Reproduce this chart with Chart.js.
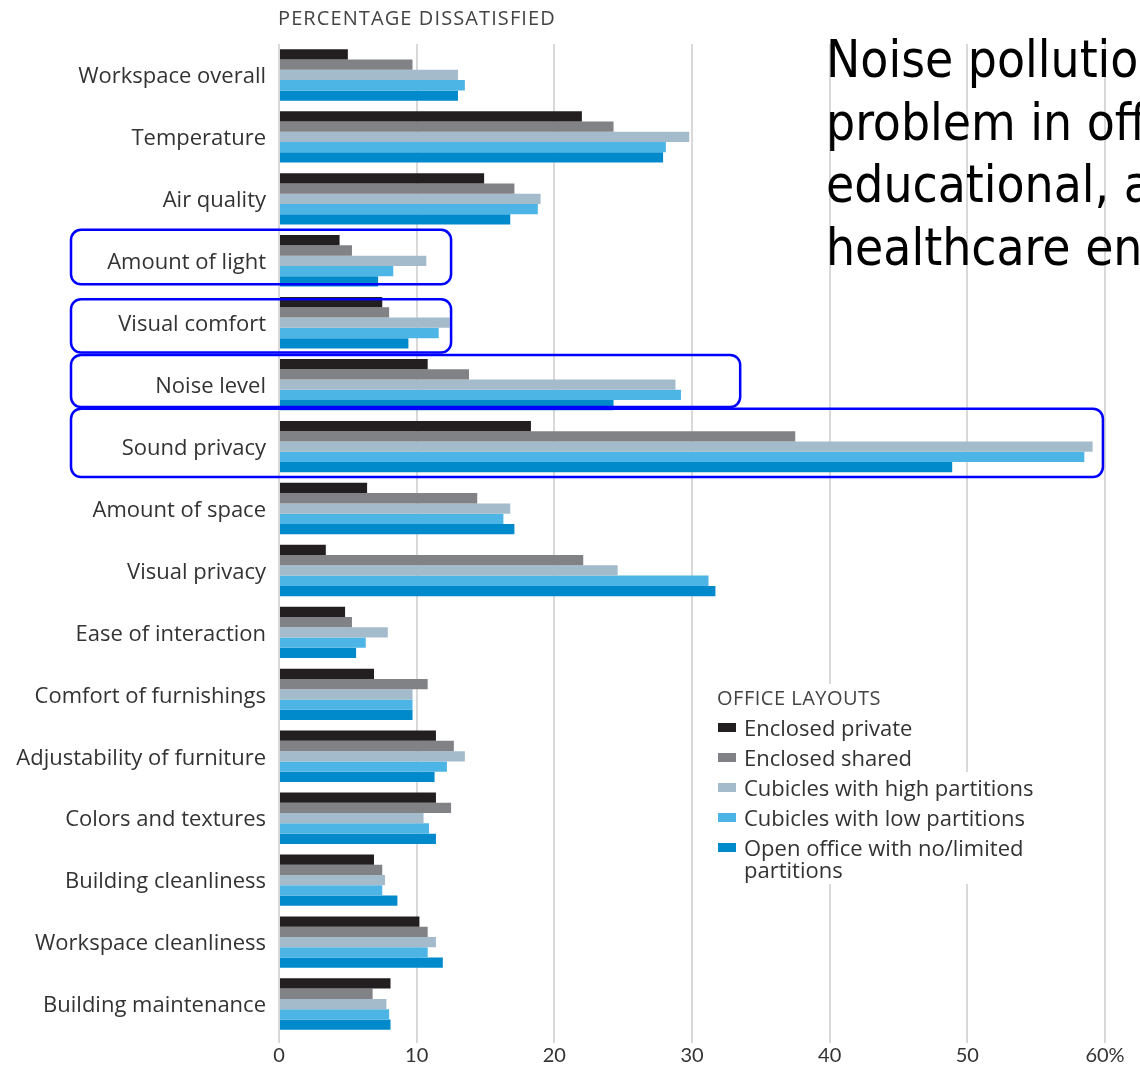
<!DOCTYPE html>
<html>
<head>
<meta charset="utf-8">
<script src="https://cdn.jsdelivr.net/npm/chart.js@4.4.1/dist/chart.umd.min.js"></script>
<style>
  html, body { margin: 0; padding: 0; background: #fff; overflow: hidden; }
  #wrap { position: relative; width: 1140px; height: 1066px; overflow: hidden; }
  canvas { position: absolute; left: 0; top: 0; }
  #title { position: absolute; left: 278px; top: 4px; font-family: "Open Sans", sans-serif; font-size: 20px; line-height: 27px; color: #444; letter-spacing: 1.1px; white-space: nowrap; }
  #note { position: absolute; left: 826px; top: 29px; font-family: "DejaVu Sans Condensed", "DejaVu Sans", sans-serif; font-stretch: condensed; font-size: 51px; line-height: 62.5px; color: #000; white-space: nowrap; }
  #legend { position: absolute; left: 717px; top: 684px; font-family: "Open Sans", sans-serif; color: #333; }
  #legend .head { font-size: 20px; color: #444; line-height: 28px; letter-spacing: 0.5px; background: #fff; width: fit-content; }
  #legend .row { position: relative; font-size: 22px; line-height: 22px; padding: 4px 0 4px 27px; background: #fff; width: fit-content; }
  #legend .row .sw { position: absolute; left: 1px; top: 11px; width: 18px; height: 9px; }
</style>
</head>
<body>
<div id="wrap">
  <canvas id="c" width="1140" height="1066"></canvas>
  <div id="title">PERCENTAGE DISSATISFIED</div>
  <div id="legend"></div>
  <div id="note">Noise pollution is a major<br>problem in offices,<br>educational, and<br>healthcare environments.</div>
</div>
<script>
// ---- data ----
const categories = [
  "Workspace overall", "Temperature", "Air quality", "Amount of light", "Visual comfort",
  "Noise level", "Sound privacy", "Amount of space", "Visual privacy", "Ease of interaction",
  "Comfort of furnishings", "Adjustability of furniture", "Colors and textures",
  "Building cleanliness", "Workspace cleanliness", "Building maintenance"
];
const seriesNames = [
  "Enclosed private", "Enclosed shared", "Cubicles with high partitions",
  "Cubicles with low partitions", "Open office with no/limited partitions"
];
const enclosedPrivate = [5.0, 22.0, 14.9, 4.4, 7.5, 10.8, 18.3, 6.4, 3.4, 4.8, 6.9, 11.4, 11.4, 6.9, 10.2, 8.1];
const enclosedShared  = [9.7, 24.3, 17.1, 5.3, 8.0, 13.8, 37.5, 14.4, 22.1, 5.3, 10.8, 12.7, 12.5, 7.5, 10.8, 6.8];
const cubiclesHigh    = [13.0, 29.8, 19.0, 10.7, 12.4, 28.8, 59.1, 16.8, 24.6, 7.9, 9.7, 13.5, 10.5, 7.7, 11.4, 7.8];
const cubiclesLow     = [13.5, 28.1, 18.8, 8.3, 11.6, 29.2, 58.5, 16.3, 31.2, 6.3, 9.7, 12.2, 10.9, 7.5, 10.8, 8.0];
const openOffice      = [13.0, 27.9, 16.8, 7.2, 9.4, 24.3, 48.9, 17.1, 31.7, 5.6, 9.7, 11.3, 11.4, 8.6, 11.9, 8.1];
const tickValues = [0, 10, 20, 30, 40, 50, 60];
const tickLabels = ["0", "10", "20", "30", "40", "50", "60%"];
// highlighted categories: [category, value where box ends, top offset, bottom offset (in category units)]
const highlights = [
  ["Amount of light", 12.5, -0.50, 0.38],
  ["Visual comfort", 12.5, -0.38, 0.48],
  ["Noise level", 33.5, -0.48, 0.36],
  ["Sound privacy", 59.85, -0.61, 0.49]
];

const colors = ["#231F20", "#808285", "#A3BBCB", "#4DB5E5", "#0089CB"];
const seriesData = [enclosedPrivate, enclosedShared, cubiclesHigh, cubiclesLow, openOffice];

// legend (HTML)
const legendEl = document.getElementById('legend');
const head = document.createElement('div');
head.className = 'head';
head.textContent = 'OFFICE LAYOUTS';
legendEl.appendChild(head);
seriesNames.forEach((n, i) => {
  const r = document.createElement('div');
  r.className = 'row';
  const sw = document.createElement('span');
  sw.className = 'sw';
  sw.style.background = colors[i];
  r.appendChild(sw);
  const t = document.createElement('span');
  t.innerHTML = n === "Open office with no/limited partitions" ? "Open office with no/limited<br>partitions" : n;
  r.appendChild(t);
  legendEl.appendChild(r);
});

const highlightPlugin = {
  id: 'highlightBoxes',
  afterDatasetsDraw(chart) {
    const ctx = chart.ctx;
    const x = chart.scales.x, y = chart.scales.y;
    const step = y.getPixelForValue(1) - y.getPixelForValue(0);
    ctx.save();
    ctx.strokeStyle = '#0000FF';
    ctx.lineWidth = 2.5;
    highlights.forEach(h => {
      const idx = categories.indexOf(h[0]);
      const c = y.getPixelForValue(idx);
      const top = c + h[2] * step, bottom = c + h[3] * step;
      const left = 71, right = x.getPixelForValue(h[1]);
      ctx.beginPath();
      ctx.roundRect(left, top, right - left, bottom - top, 10);
      ctx.stroke();
    });
    ctx.restore();
  }
};

new Chart(document.getElementById('c'), {
  type: 'bar',
  data: {
    labels: categories,
    datasets: seriesNames.map((n, i) => ({
      label: n,
      data: seriesData[i],
      backgroundColor: colors[i],
      borderWidth: 0,
      categoryPercentage: 0.83,
      barPercentage: 1.0
    }))
  },
  options: {
    indexAxis: 'y',
    responsive: false,
    animation: false,
    devicePixelRatio: 1,
    layout: { padding: { left: 0, right: 35, top: 44, bottom: 0 } },
    plugins: { legend: { display: false }, tooltip: { enabled: false }, title: { display: false } },
    scales: {
      x: {
        min: 0, max: 60,
        afterBuildTicks(scale) { scale.ticks = tickValues.map(v => ({ value: v })); },
        afterFit(scale) { scale.height = 31; },
        grid: { color: '#d9d9d9', lineWidth: 2, tickLength: 8, drawTicks: true },
        border: { display: false },
        ticks: {
          padding: 1,
          color: '#333',
          font: { family: 'Lato', size: 20 },
          callback: (v) => tickLabels[tickValues.indexOf(v)]
        }
      },
      y: {
        afterFit(scale) { scale.width = 279; },
        grid: { display: false, drawTicks: false, tickLength: 0 },
        border: { display: false },
        ticks: { padding: 13, labelOffset: 2, color: '#333', font: { family: 'Open Sans', size: 22 } }
      }
    }
  },
  plugins: [highlightPlugin]
});
</script>
</body>
</html>
